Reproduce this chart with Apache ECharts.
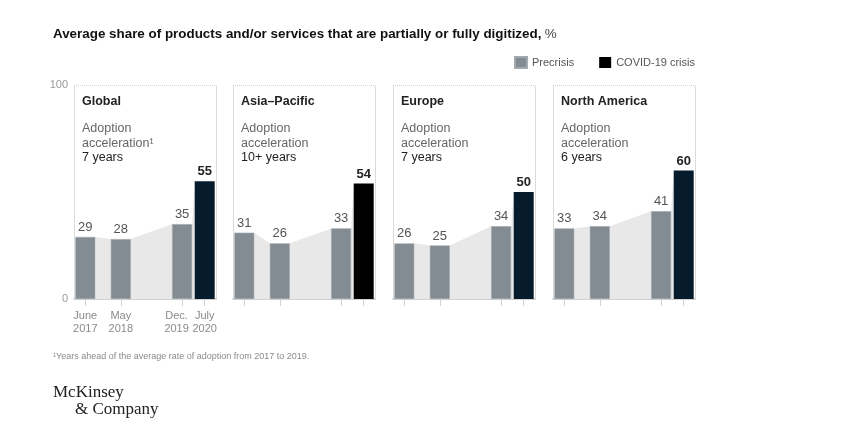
<!DOCTYPE html>
<html>
<head>
<meta charset="utf-8">
<title>Digitized products and services</title>
<script src="https://cdn.jsdelivr.net/npm/echarts@6/dist/echarts.min.js"></script>
<style>
  html, body { margin: 0; padding: 0; background: #fff; }
  #chart { width: 846px; height: 437px; }
</style>
</head>
<body>
<div id="chart"></div>
<script>
// data
var regions = ['Global', 'Asia\u2013Pacific', 'Europe', 'North America'];
var acceleration = ['7 years', '10+ years', '7 years', '6 years'];
var precrisis = [
  [29, 28, 35],
  [31, 26, 33],
  [26, 25, 34],
  [33, 34, 41]
];
var covid = [55, 54, 50, 60];
// months after June 2017
var months = [0, 11, 30, 37];
var periodLabels = ['June\n2017', 'May\n2018', 'Dec.\n2019', 'July\n2020'];

var FONT = '"Liberation Sans", Arial, sans-serif';
var GREY_BAR = '#838b93';
var covidColors = ['#061c2c', '#000000', '#061c2c', '#061c2c'];
var panelLeft = [74, 233, 393, 553];
var panelWidth = 142;
var hw = 10; // half bar width

var chart = echarts.init(document.getElementById('chart'));

var grids = [], xAxes = [], yAxes = [], series = [], graphics = [];

function periodLabel(v) {
  var k = months.indexOf(v);
  if (k < 0) return '';
  // Dec. 2019 is nudged left so it clears July 2020
  var key = k === 2 ? 'l' : 'c';
  return periodLabels[k].split('\n').map(function (s) { return '{' + key + '|' + s + '}'; }).join('\n');
}

function labelStyle(values) {
  return {
    show: true, customValues: values, hideOverlap: false,
    showMinLabel: true, showMaxLabel: true,
    formatter: periodLabel,
    color: '#8a8a8a', fontSize: 11, fontFamily: FONT, lineHeight: 13.5, margin: 10,
    rich: {
      c: { color: '#8a8a8a', fontSize: 11, fontFamily: FONT, lineHeight: 13.5 },
      l: { color: '#8a8a8a', fontSize: 11, fontFamily: FONT, lineHeight: 13.5, padding: [0, 11, 0, 0] }
    }
  };
}

regions.forEach(function (name, i) {
  grids.push({
    left: panelLeft[i], top: 85, width: panelWidth, height: 214,
    containLabel: false, outerBoundsMode: 'none'
  });

  var lab = i === 0 ? labelStyle(months.slice(0, 3)) : { show: false };
  xAxes.push({
    gridIndex: i, type: 'value', min: -3.5, max: 40.5, position: 'bottom',
    axisLine: { show: true, lineStyle: { color: '#d2d2d2', width: 2 } },
    axisTick: { show: true, customValues: months, length: 7, lineStyle: { color: '#d2d2d2' } },
    axisLabel: lab,
    splitLine: { show: false }
  });

  yAxes.push({
    gridIndex: i, type: 'value', min: 0, max: 100, interval: 100, position: 'left',
    axisLine: { show: true, onZero: false, lineStyle: { color: '#d4d4d4', type: 'dotted' } },
    axisTick: { show: false },
    axisLabel: { show: i === 0, color: '#9a9a9a', fontSize: 11, fontFamily: FONT, margin: 6 },
    splitLine: { show: true, lineStyle: { color: '#d4d4d4', type: 'dotted' } }
  });
  yAxes.push({
    gridIndex: i, type: 'value', min: 0, max: 100, interval: 100, position: 'right',
    axisLine: { show: true, onZero: false, lineStyle: { color: '#d4d4d4', type: 'dotted' } },
    axisTick: { show: false }, axisLabel: { show: false }, splitLine: { show: false }
  });

  var pts = precrisis[i].map(function (v, j) { return [months[j], v]; });
  pts.push([months[3], covid[i]]);

  // shaded band joining the bar tops
  series.push({
    type: 'custom', xAxisIndex: i, yAxisIndex: i * 2, z: 1, silent: true,
    data: pts, encode: { x: 0, y: 1 },
    renderItem: function (params, api) {
      if (params.dataIndex !== 0) return;
      var poly = [];
      pts.forEach(function (p) {
        var c = api.coord(p);
        poly.push([c[0] - hw, c[1]], [c[0] + hw, c[1]]);
      });
      poly = poly.slice(1, -1);
      var b0 = api.coord([pts[0][0], 0]);
      var b1 = api.coord([pts[pts.length - 1][0], 0]);
      poly.push([b1[0] - hw, b1[1]], [b0[0] + hw, b0[1]]);
      return { type: 'polygon', shape: { points: poly }, style: { fill: '#e8e8e8' } };
    }
  });

  series.push({
    name: 'Precrisis', type: 'bar', xAxisIndex: i, yAxisIndex: i * 2, z: 3,
    barWidth: hw * 2, barGap: '-100%',
    data: pts.slice(0, 3),
    itemStyle: { color: GREY_BAR, borderColor: '#a3a9ae', borderWidth: 0.6 },
    label: { show: true, position: 'top', distance: 3, color: '#555', fontSize: 13, fontFamily: FONT },
    emphasis: { disabled: true }
  });
  series.push({
    name: 'COVID-19 crisis', type: 'bar', xAxisIndex: i, yAxisIndex: i * 2, z: 3,
    barWidth: hw * 2, barGap: '-100%',
    data: [pts[3]],
    itemStyle: { color: covidColors[i] },
    label: { show: true, position: 'top', distance: 3, color: '#222', fontSize: 13, fontWeight: 'bold', fontFamily: FONT },
    emphasis: { disabled: true }
  });

  // panel headings
  var tx = panelLeft[i] + 8;
  graphics.push({ type: 'text', x: tx, y: 102, style: { text: name, font: 'bold 12.5px ' + FONT, fill: '#222', verticalAlign: 'middle' } });
  graphics.push({ type: 'text', x: tx, y: 128.5, style: { text: 'Adoption', font: '12.5px ' + FONT, fill: '#666', verticalAlign: 'middle' } });
  graphics.push({ type: 'text', x: tx, y: 143.5, style: { text: 'acceleration' + (i === 0 ? '\u00b9' : ''), font: '12.5px ' + FONT, fill: '#666', verticalAlign: 'middle' } });
  graphics.push({ type: 'text', x: tx, y: 158, style: { text: acceleration[i], font: '12.5px ' + FONT, fill: '#222', verticalAlign: 'middle' } });
});

// second bottom axis on the Global panel, carrying only the July 2020 label
xAxes.push({
  gridIndex: 0, type: 'value', min: -3.5, max: 40.5, position: 'bottom', offset: 0,
  axisLine: { show: false }, axisTick: { show: false }, splitLine: { show: false },
  axisLabel: labelStyle(months.slice(3))
});

graphics.push({
  type: 'text', x: 53, y: 34,
  style: {
    text: '{b|Average share of products and/or services that are partially or fully digitized,} {n|%}',
    verticalAlign: 'middle',
    rich: {
      b: { font: 'bold 13.4px ' + FONT, fill: '#111' },
      n: { font: '13.4px ' + FONT, fill: '#444' }
    }
  }
});
graphics.push({
  type: 'text', x: 53, y: 357,
  style: { text: '\u00b9Years ahead of the average rate of adoption from 2017 to 2019.', font: '9px ' + FONT, fill: '#8a8a8a', verticalAlign: 'middle' }
});
graphics.push({ type: 'text', x: 53, y: 393, style: { text: 'McKinsey', font: '17px "Liberation Serif", serif', fill: '#222', verticalAlign: 'middle' } });
graphics.push({ type: 'text', x: 75, y: 410, style: { text: '& Company', font: '17px "Liberation Serif", serif', fill: '#222', verticalAlign: 'middle' } });

chart.setOption({
  animation: false,
  legend: {
    right: 151, top: 56, padding: 0, itemWidth: 12, itemHeight: 11, itemGap: 25, icon: 'rect',
    selectedMode: false,
    textStyle: { color: '#555', fontSize: 11, fontFamily: FONT },
    data: [
      { name: 'Precrisis', itemStyle: { color: GREY_BAR } },
      { name: 'COVID-19 crisis', itemStyle: { color: '#000' } }
    ]
  },
  grid: grids,
  xAxis: xAxes,
  yAxis: yAxes,
  series: series,
  graphic: graphics
});
</script>
</body>
</html>
